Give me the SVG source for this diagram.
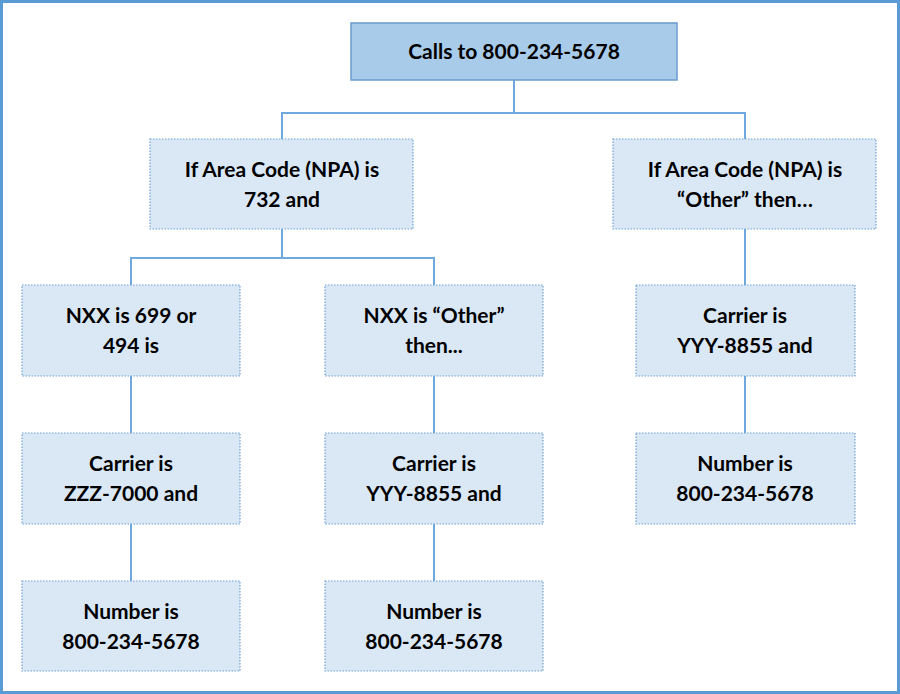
<svg xmlns="http://www.w3.org/2000/svg" width="900" height="694" viewBox="0 0 900 694">
<style>
.b{fill:#dae8f6;stroke:#6fa0d6;stroke-width:1.2;stroke-dasharray:1.5 1.5}
.t{font-family:Lato,"Open Sans",sans-serif;font-weight:bold;font-size:21px;fill:#000;text-anchor:middle}
.c{fill:none;stroke:#6fa8dc;stroke-width:2}
</style>
<rect x="0" y="0" width="900" height="694" fill="#fff"/>
<rect x="1.5" y="1.5" width="897" height="691" fill="none" stroke="#5b9bd5" stroke-width="3"/>
<g id="connectors">
<path class="c" d="M514 80V113H282V139M514 113H745V139"/>
<path class="c" d="M282 229V258H131V285M282 258H434V285"/>
<path class="c" d="M131 376V433M131 524V581M434 376V433M434 524V581M745 229V285M745 376V433"/>
</g>
<g id="root"><rect x="351" y="23" width="326" height="57" fill="#a9cbea" stroke="#6b9bd0" stroke-width="1.5"/><text class="t" x="514" y="59">Calls to 800-234-5678</text></g>
<g id="npa732"><rect class="b" x="150" y="139" width="263" height="90"/><text class="t" x="282" y="177">If Area Code (NPA) is</text><text class="t" x="282" y="207">732 and</text></g>
<g id="npaOther"><rect class="b" x="613" y="139" width="263" height="90"/><text class="t" x="745" y="177">If Area Code (NPA) is</text><text class="t" x="745" y="207">“Other” then…</text></g>
<g id="nxx699"><rect class="b" x="22" y="285" width="218" height="91"/><text class="t" x="131" y="323">NXX is 699 or</text><text class="t" x="131" y="353">494 is</text></g>
<g id="nxxOther"><rect class="b" x="325" y="285" width="218" height="91"/><text class="t" x="434" y="323">NXX is “Other”</text><text class="t" x="434" y="353">then...</text></g>
<g id="carrierR"><rect class="b" x="636" y="285" width="219" height="91"/><text class="t" x="745" y="323">Carrier is</text><text class="t" x="745" y="353">YYY-8855 and</text></g>
<g id="carrierZ"><rect class="b" x="22" y="433" width="218" height="91"/><text class="t" x="131" y="471">Carrier is</text><text class="t" x="131" y="501">ZZZ-7000 and</text></g>
<g id="carrierY"><rect class="b" x="325" y="433" width="218" height="91"/><text class="t" x="434" y="471">Carrier is</text><text class="t" x="434" y="501">YYY-8855 and</text></g>
<g id="numR"><rect class="b" x="636" y="433" width="219" height="91"/><text class="t" x="745" y="471">Number is</text><text class="t" x="745" y="501">800-234-5678</text></g>
<g id="numL"><rect class="b" x="22" y="581" width="218" height="90"/><text class="t" x="131" y="619">Number is</text><text class="t" x="131" y="649">800-234-5678</text></g>
<g id="numM"><rect class="b" x="325" y="581" width="218" height="90"/><text class="t" x="434" y="619">Number is</text><text class="t" x="434" y="649">800-234-5678</text></g>
</svg>
